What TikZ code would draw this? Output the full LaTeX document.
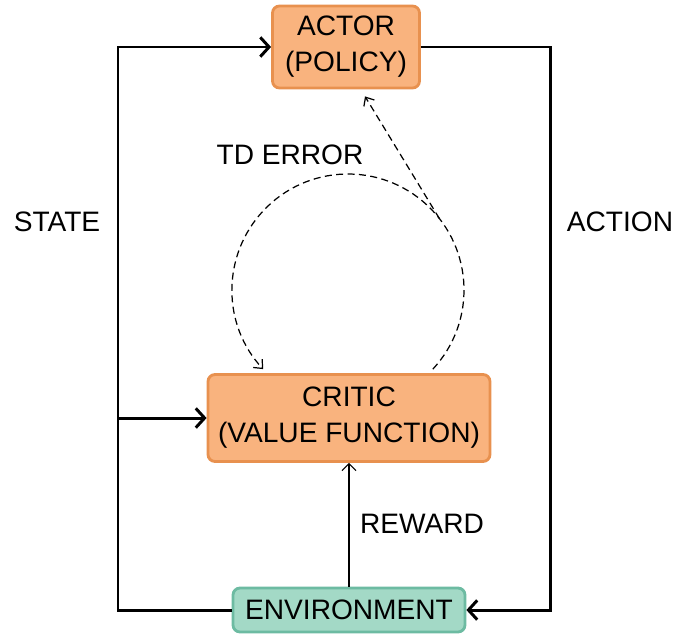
\documentclass[tikz,border=0pt]{standalone}
\usepackage{fontspec}
\setmainfont{Liberation Sans}
\usetikzlibrary{arrows.meta}
\definecolor{boxorange}{HTML}{F9B37E}
\definecolor{lineorange}{HTML}{E8914F}
\definecolor{boxgreen}{HTML}{A3D9C6}
\definecolor{linegreen}{HTML}{6DBBA2}
\tikzstyle{block}=[draw=lineorange, fill=boxorange, line width=1.6pt, rounded corners=4pt, align=center, font=\fontsize{16}{20.5}\selectfont, inner sep=0pt]
\tikzstyle{envblock}=[block, draw=linegreen, fill=boxgreen]
\tikzstyle{label}=[font=\fontsize{16}{20.5}\selectfont]
\tikzstyle{flow}=[line width=1.7pt, -{Straight Barb[length=5pt, width=11pt, line width=1.7pt]}]
\tikzstyle{signal}=[line width=0.6pt, -{Straight Barb[length=4pt, width=8pt]}]
\tikzstyle{error}=[line width=0.7pt, dash pattern=on 4pt off 2.5pt, -{Straight Barb[length=4pt, width=7pt]}]

\begin{document}
\begin{tikzpicture}
          \useasboundingbox (0, 0) rectangle (13.52, -12.7);
          \node[block, minimum width=2.94cm, minimum height=1.64cm] (actor) at (6.92, -0.94) {ACTOR\\(POLICY)};
          \node[block, minimum width=5.64cm, minimum height=1.74cm] (critic) at (6.98, -8.36) {CRITIC\\(VALUE FUNCTION)};
          \node[envblock, minimum width=4.64cm, minimum height=0.88cm] (env) at (6.98, -12.2) {ENVIRONMENT};

          \coordinate (state_low) at (2.36, -12.2);
          \coordinate (state_mid) at (2.36, -8.36);
          \coordinate (action_top) at (11.0, -0.94);
          \coordinate (td_centre) at (6.96, -5.8);
          \coordinate (td_tip) at ([xshift=0.38cm, yshift=-0.14cm]actor.south);

          \draw[flow] (env.west) -- (state_low) |- (actor.west);
          \draw[flow] (state_mid) -- (critic.west);
          \draw[flow] (actor.east) -- (action_top) |- (env.east);
          \draw[signal] (env.north) -- (critic.south);

          \draw[error] ([shift={(-43:2.32)}]td_centre) arc (-43:223:2.32);
          \draw[error] ([shift={(38:2.32)}]td_centre) -- (td_tip);

          \node[label] (state) at (1.14, -4.44) {STATE};
          \node[label] (action) at (12.4, -4.44) {ACTION};
          \node[label] (td) at (5.8, -3.1) {TD ERROR};
          \node[label] (reward) at (8.44, -10.48) {REWARD};
        \end{tikzpicture}
\end{document}
